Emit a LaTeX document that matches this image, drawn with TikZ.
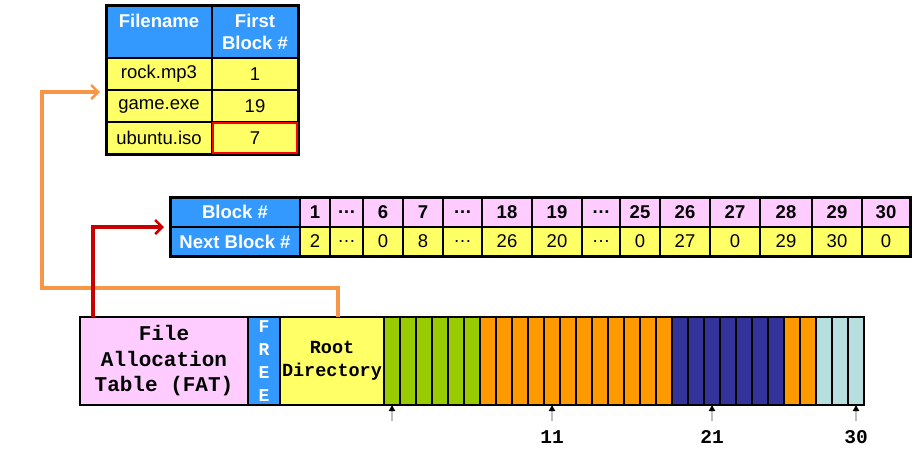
\documentclass[tikz,border=0pt]{standalone}
\usepackage{fontspec}
\setmainfont{Liberation Sans}
\setmonofont{Liberation Mono}
\usetikzlibrary{arrows.meta}

\definecolor{hdrblue}{RGB}{51,153,255}
\definecolor{celly}{RGB}{255,255,102}
\definecolor{cellp}{RGB}{255,204,255}
\definecolor{blkgreen}{RGB}{153,204,0}
\definecolor{blkorange}{RGB}{255,153,0}
\definecolor{blknavy}{RGB}{51,51,153}
\definecolor{blkcyan}{RGB}{183,223,224}
\definecolor{linkorange}{RGB}{247,150,70}
\definecolor{linkred}{RGB}{200,0,0}

\tikzset{
  cell/.style={draw, line width=1.5pt, inner sep=0pt, outer sep=0pt, align=center,
    font=\fontsize{18.5}{22}\selectfont},
  hdr/.style={cell, fill=hdrblue, text=white, font=\fontsize{18.5}{22}\selectfont\bfseries},
  disk/.style={draw, line width=1.2pt, inner sep=0pt, outer sep=0pt, minimum height=88pt, align=center},
  link/.style={line width=3.5pt, -{Straight Barb[length=7pt,width=14pt,line width=2.5pt]}},
  tick/.style={gray!50, line width=1.5pt, -{Triangle[length=6pt,width=6pt,color=black]}},
  disklbl/.style={font=\fontsize{19.5}{22}\selectfont\ttfamily\bfseries}
}

\begin{document}
\begin{tikzpicture}[x=1pt, y={(0pt,-1pt)}]
\useasboundingbox (0,0) rectangle (915,450);

% Directory table
\node[hdr, minimum width=106pt, minimum height=53pt] (fname) at (159,31.5) {Filename\\\mbox{}};
\node[hdr, minimum width=86pt, minimum height=53pt] (first) at (255,31.5) {First\\Block \#};
\foreach \f/\b [count=\i] in {rock.mp3/1, game.exe/19, ubuntu.iso/7} {
  \node[cell, fill=celly, minimum width=106pt, minimum height=32pt] (file\i) at (159,{74+32*(\i-1)}) {\f};
  \node[cell, fill=celly, minimum width=86pt, minimum height=32pt] (fb\i) at (255,{74+32*(\i-1)}) {\b};
}
\draw[line width=3pt] (fname.north west) rectangle (fb3.south east);
\draw[red, line width=2pt] ([shift={(1pt,-1pt)}]fb3.north west) rectangle ([shift={(-1pt,1pt)}]fb3.south east);

% FAT table
\node[hdr, minimum width=130pt, minimum height=30pt] (blklbl) at (235,212) {Block \#};
\node[hdr, minimum width=130pt, minimum height=29pt] (nxtlbl) at (235,241.5) {Next Block \#};
\foreach \l/\r/\b/\n [count=\i] in {300/330/1/2, 330/363/…/…, 363/403/6/0, 403/443/7/8,
    443/482/…/…, 482/532/18/26, 532/582/19/20, 582/620/…/…, 620/660/25/0, 660/710/26/27,
    710/760/27/0, 760/812/28/29, 812/862/29/30, 862/910/30/0} {
  \node[cell, fill=cellp, font=\fontsize{18.5}{22}\selectfont\bfseries, minimum width={(\r-\l)*1pt},
    minimum height=30pt] (b\i) at ({(\l+\r)/2},212) {\b};
  \node[cell, fill=celly, minimum width={(\r-\l)*1pt}, minimum height=29pt] (n\i) at ({(\l+\r)/2},241.5) {\n};
}
\draw[line width=3pt] (blklbl.north west) rectangle (n14.south east);

% Disk layout
\node[disk, fill=cellp, minimum width=168pt, font=\fontsize{21}{25.5}\selectfont\ttfamily\bfseries]
  (fat) at (164,361) {File\\Allocation\\Table (FAT)};
\node[disk, fill=hdrblue, text=white, minimum width=32pt, font=\fontsize{18}{23}\selectfont\ttfamily\bfseries]
  (free) at (264,361) {F\\R\\E\\E};
\node[disk, fill=celly, minimum width=104pt, font=\fontsize{18.5}{23}\selectfont\ttfamily\bfseries]
  (root) at (332,361) {Root\\Directory};
\foreach \a/\z/\c in {1/6/blkgreen, 7/18/blkorange, 19/25/blknavy, 26/27/blkorange, 28/30/blkcyan}
  \foreach \i in {\a,...,\z}
    \node[disk, fill=\c, minimum width=16pt] (blk\i) at ({384+16*\i-8},361) {};

% Block markers
\foreach \i in {1,11,21,30}
  \draw[tick] ([yshift=-16pt]blk\i.south) -- (blk\i.south);
\foreach \i in {11,21,30}
  \node[disklbl] (lbl\i) at ([yshift=-32pt]blk\i.south) {\i};

% Links
\draw[link, linkorange] ([xshift=6pt]root.north) |- (42,288) |- ([shift={(-6pt,-2pt)}]file1.south west);
\draw[link, linkred] ([xshift=13pt]fat.north west) |- ([xshift=-6pt]blklbl.south west);

\end{tikzpicture}
\end{document}
